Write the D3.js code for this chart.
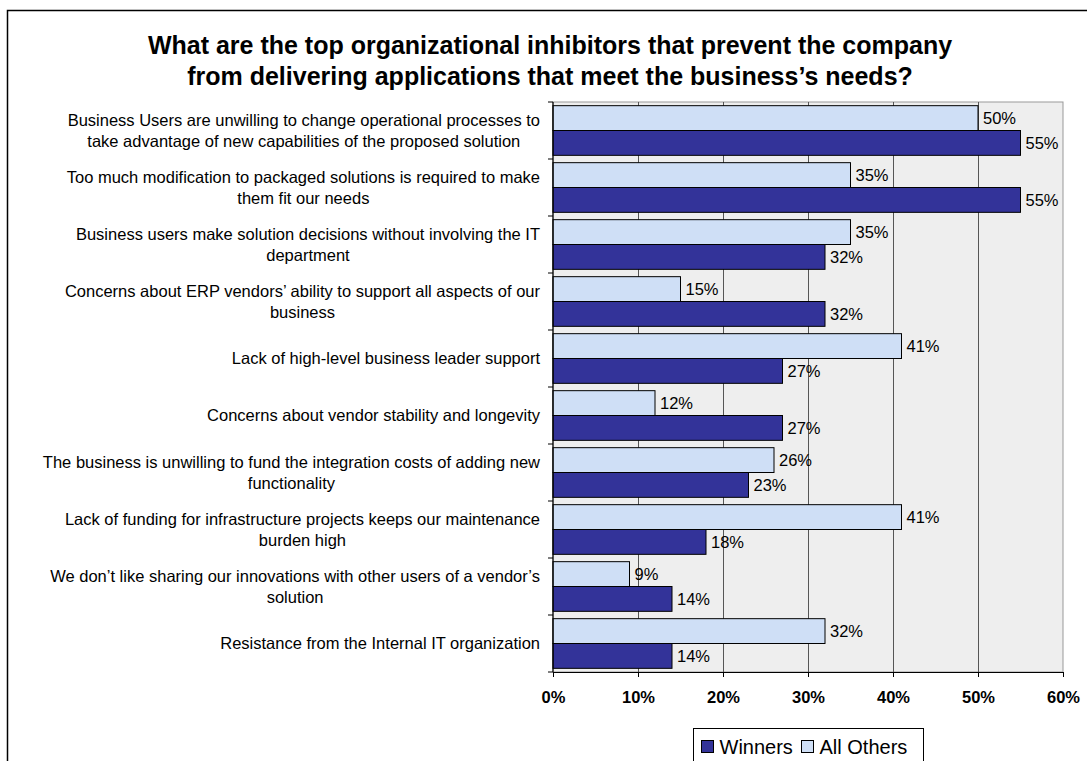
<!DOCTYPE html>
<html>
<head>
<meta charset="utf-8">
<script src="https://cdn.jsdelivr.net/npm/d3@7"></script>
<style>
  html, body { margin: 0; padding: 0; background: #fff; }
  svg { display: block; font-family: "Liberation Sans", Arial, sans-serif; }
</style>
</head>
<body>
<svg id="chart" width="1087" height="761"></svg>
<script>
// Survey categories, top to bottom (each entry holds its wrapped label lines)
const categories = [
  ["Business Users are unwilling to change operational processes to", "take advantage of new capabilities of the proposed solution"],
  ["Too much modification to packaged solutions is required to make", "them fit our needs"],
  ["Business users make solution decisions without involving the IT", "department"],
  ["Concerns about ERP vendors’ ability to support all aspects of our", "business"],
  ["Lack of high-level business leader support"],
  ["Concerns about vendor stability and longevity"],
  ["The business is unwilling to fund the integration costs of adding new", "functionality"],
  ["Lack of funding for infrastructure projects keeps our maintenance", "burden high"],
  ["We don’t like sharing our innovations with other users of a vendor’s", "solution"],
  ["Resistance from the Internal IT organization"]
];
const seriesNames = ["All Others", "Winners"];
const allOthers = [0.50, 0.35, 0.35, 0.15, 0.41, 0.12, 0.26, 0.41, 0.09, 0.32];
const winners   = [0.55, 0.55, 0.32, 0.32, 0.27, 0.27, 0.23, 0.18, 0.14, 0.14];
const xTicks = [0, 0.1, 0.2, 0.3, 0.4, 0.5, 0.6];
const titleLines = [
  "What are the top organizational inhibitors that prevent the company",
  "from delivering applications that meet the business’s needs?"
];
const legendOrder = ["Winners", "All Others"];

const colors = { "All Others": "#CFDFF6", "Winners": "#333399" };
const seriesValues = { "All Others": allOthers, "Winners": winners };

const svg = d3.select("#chart");
const plot = { left: 553, right: 1063, top: 102, bottom: 672 };

// Outer frame
svg.append("rect")
  .attr("x", 7.5).attr("y", 10.5)
  .attr("width", 1200).attr("height", 1000)
  .attr("fill", "none").attr("stroke", "#000").attr("stroke-width", 1.5);

// Title
svg.append("g").selectAll("text").data(titleLines).join("text")
  .attr("x", 550).attr("y", (d, i) => 54 + i * 31)
  .attr("text-anchor", "middle")
  .attr("font-size", 25).attr("font-weight", "bold")
  .attr("fill", "#000")
  .text(d => d);

const ids = categories.map((c, i) => i);
const x = d3.scaleLinear().domain([0, 0.6]).range([plot.left, plot.right]);
const y = d3.scaleBand().domain(ids).range([plot.top, plot.bottom]);
const inner = d3.scaleBand().domain(seriesNames)
  .range([0, y.bandwidth()]).paddingOuter(0.148).paddingInner(0);

// Plot background
svg.append("rect")
  .attr("x", plot.left).attr("y", plot.top)
  .attr("width", plot.right - plot.left).attr("height", plot.bottom - plot.top)
  .attr("fill", "#EEEEEE").attr("stroke", "#999").attr("stroke-width", 1);

// Vertical gridlines
svg.append("g").selectAll("line").data(xTicks.slice(1, -1)).join("line")
  .attr("x1", d => Math.round(x(d)) + 0.5).attr("x2", d => Math.round(x(d)) + 0.5)
  .attr("y1", plot.top).attr("y2", plot.bottom)
  .attr("stroke", "#555").attr("stroke-width", 1);

// Bars
const groups = svg.append("g").selectAll("g").data(ids).join("g")
  .attr("transform", d => `translate(0,${y(d)})`);

groups.selectAll("rect")
  .data(i => seriesNames.map(s => ({ s, v: seriesValues[s][i] })))
  .join("rect")
  .attr("x", x(0))
  .attr("y", d => inner(d.s))
  .attr("width", d => x(d.v) - x(0))
  .attr("height", inner.bandwidth())
  .attr("fill", d => colors[d.s])
  .attr("stroke", "#000").attr("stroke-width", 1);

// Value labels
groups.selectAll("text.val")
  .data(i => seriesNames.map(s => ({ s, v: seriesValues[s][i] })))
  .join("text").attr("class", "val")
  .attr("x", d => x(d.v) + 5)
  .attr("y", d => inner(d.s) + inner.bandwidth() / 2)
  .attr("dy", "0.36em")
  .attr("font-size", 16.5).attr("fill", "#000")
  .text(d => d3.format(".0%")(d.v));

// X axis
const xAxis = svg.append("g")
  .attr("transform", `translate(0,${plot.bottom})`)
  .call(d3.axisBottom(x).tickValues(xTicks).tickFormat(d3.format(".0%"))
    .tickSize(5).tickPadding(14.5).tickSizeOuter(0));
xAxis.select(".domain").attr("stroke", "#000").attr("stroke-width", 1.2);
xAxis.selectAll(".tick line").attr("stroke", "#000");
xAxis.selectAll(".tick text")
  .attr("font-size", 16.5).attr("font-weight", "bold")
  .attr("font-family", "'Liberation Sans', Arial, sans-serif").attr("fill", "#000");

// Y axis line and category boundary ticks
svg.append("line")
  .attr("x1", plot.left).attr("x2", plot.left)
  .attr("y1", plot.top).attr("y2", plot.bottom)
  .attr("stroke", "#000").attr("stroke-width", 1.2);
const bounds = ids.map(i => y(i)).concat([plot.bottom]);
svg.append("g").selectAll("line").data(bounds).join("line")
  .attr("x1", plot.left - 5).attr("x2", plot.left)
  .attr("y1", d => d).attr("y2", d => d)
  .attr("stroke", "#000").attr("stroke-width", 1);

// Category labels: centred line block, right-aligned against the axis
const lineH = 21.5;
const labelRight = 540;
const labels = svg.append("g").selectAll("text").data(ids).join("text")
  .attr("font-size", 16.5).attr("fill", "#000")
  .attr("text-anchor", "middle");
labels.each(function(i) {
  const t = d3.select(this);
  const lines = categories[i];
  const cy = y(i) + y.bandwidth() / 2;
  const y0 = cy - (lines.length - 1) * lineH / 2;
  lines.forEach((ln, k) => {
    t.append("tspan").attr("y", y0 + k * lineH).attr("dy", "0.35em").text(ln);
  });
  let maxW = 0;
  t.selectAll("tspan").each(function() { maxW = Math.max(maxW, this.getComputedTextLength()); });
  t.selectAll("tspan").attr("x", labelRight - maxW / 2);
});

// Legend
const legend = svg.append("g");
legend.append("rect")
  .attr("x", 693.5).attr("y", 728.5).attr("width", 230).attr("height", 60)
  .attr("fill", "#fff").attr("stroke", "#000").attr("stroke-width", 1);
const legendX = { "Winners": 701.5, "All Others": 801.5 };
legendOrder.forEach(s => {
  legend.append("rect")
    .attr("x", legendX[s]).attr("y", 740.5).attr("width", 12).attr("height", 12)
    .attr("fill", colors[s]).attr("stroke", "#000").attr("stroke-width", 1);
  legend.append("text")
    .attr("x", legendX[s] + 18).attr("y", 754)
    .attr("font-size", 20).attr("fill", "#000")
    .text(s);
});
</script>
</body>
</html>
